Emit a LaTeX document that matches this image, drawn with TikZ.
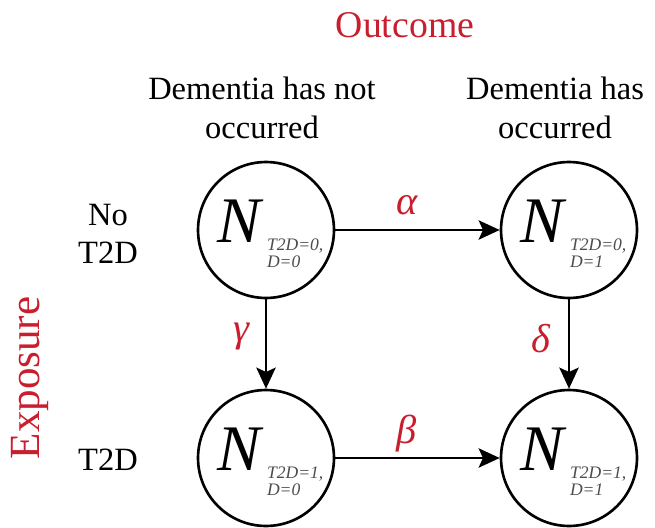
\documentclass[tikz,border=0pt]{standalone}
\usepackage{fontspec}
\setmainfont{Liberation Serif}
\usetikzlibrary{arrows.meta,positioning}

\definecolor{labelred}{RGB}{200,30,45}

% count in a state: big N with its two-line index
\newcommand{\Ncount}[2]{%
  \hspace*{5pt}{\fontsize{37}{37}\selectfont\itshape N}\hspace{3.5pt}%
  \raisebox{-4.5pt}[0pt][10pt]{\fontsize{10}{9.5}\selectfont\itshape\color{black!70}%
    \begin{tabular}[t]{@{}l@{}}T2D=#1,\\D=#2\end{tabular}}}

\begin{document}
\begin{tikzpicture}[x=0.02cm,y=-0.02cm,
    state/.style={circle,draw,line width=1.5pt,minimum size=2.72cm,inner sep=0pt},
    flow/.style={-{Stealth[length=12pt,width=11pt,inset=2.5pt]},line width=1.5pt},
    rate/.style={text=labelred,font=\fontsize{23}{23}\selectfont\itshape},
    heading/.style={font=\fontsize{18.5}{22}\selectfont,align=center}]

    \useasboundingbox (0,0) rectangle (655,527);

    % Headings
    \node[text=labelred,font=\fontsize{21.5}{21.5}\selectfont] (outcome) at (405,25) {Outcome};
    \node[heading] (notocc) at (262,108) {Dementia has not\\occurred};
    \node[heading] (occ) at (555,108) {Dementia has\\occurred};
    \node[heading] (nodiab) at (108,234) {No\\T2D};
    \node[heading] (diab) at (108,460) {T2D};
    \node[rotate=90,text=labelred,font=\fontsize{24.5}{24.5}\selectfont] (exposure) at (30,378) {Exposure};

    % States
    \node[state] (n00) at (266,230) {\Ncount{0}{0}};
    \node[state] (n01) at (569,230) {\Ncount{0}{1}};
    \node[state] (n10) at (266,458) {\Ncount{1}{0}};
    \node[state] (n11) at (569,458) {\Ncount{1}{1}};

    % Transitions
    \draw[flow] (n00) -- node[rate,xshift=-6pt,yshift=14pt] {α} (n01);
    \draw[flow] (n10) -- node[rate,xshift=-6pt,yshift=14pt] {β} (n11);
    \draw[flow] (n00) -- node[rate,xshift=-14pt,yshift=4pt] {γ} (n10);
    \draw[flow] (n01) -- node[rate,xshift=-16pt,yshift=3pt] {δ} (n11);
\end{tikzpicture}
\end{document}
